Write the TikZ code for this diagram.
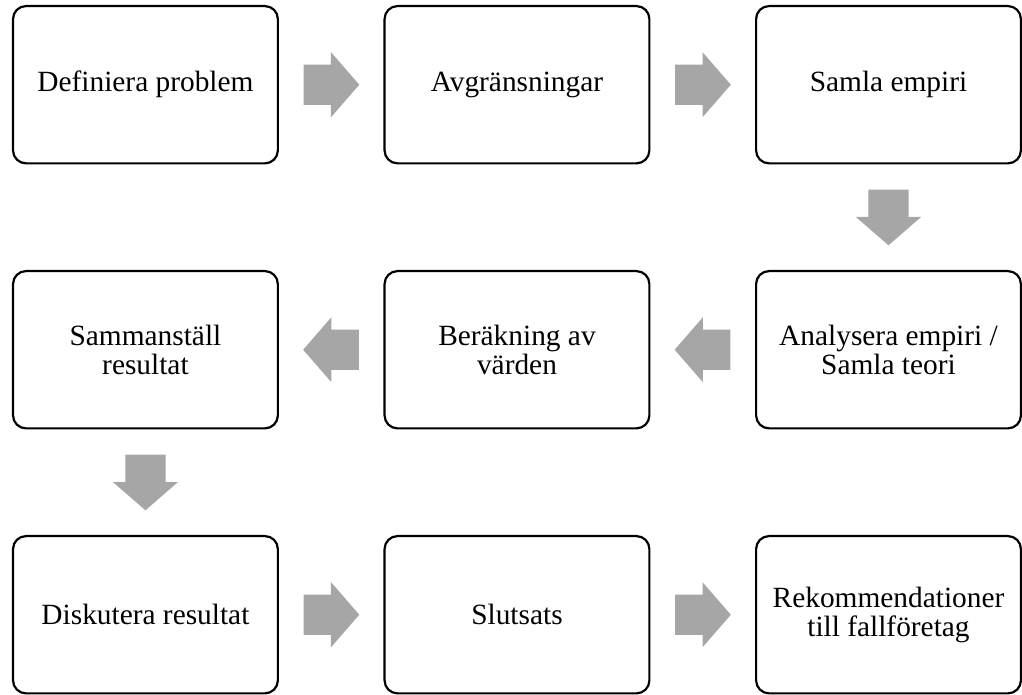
\documentclass[tikz,border=0pt]{standalone}
\usepackage{fontspec}
\setmainfont{Liberation Serif}
\usetikzlibrary{positioning,calc,shapes.arrows}

\definecolor{pilgra}{RGB}{166,166,166}

\begin{document}
\begin{tikzpicture}[node distance=106pt and 105pt,
  steg/.style={draw, line width=2.2pt, rounded corners=13pt, minimum width=266pt, minimum height=158pt,
    align=center, font=\fontsize{29.5}{29}\selectfont, inner sep=4pt},
  pil/.style={single arrow, fill=pilgra, draw=none, minimum height=56pt, minimum width=65pt, anchor=tail,
    inner xsep=0pt, inner ysep=20pt, single arrow head extend=12.5pt, single arrow tip angle=98}]
% rad 1
\node[steg] (def) {Definiera problem};
\node[steg, right=of def] (avg) {Avgränsningar};
\node[steg, right=of avg] (emp) {Samla empiri};
% rad 2
\node[steg, below=of emp] (ana) {Analysera empiri /\\Samla teori};
\node[steg, left=of ana] (ber) {Beräkning av\\värden};
\node[steg, left=of ber] (sam) {Sammanställ\\resultat};
% rad 3
\node[steg, below=of sam] (dis) {Diskutera resultat};
\node[steg, right=of dis] (slu) {Slutsats};
\node[steg, right=of slu] (rek) {Rekommendationer\\till fallföretag};
% pilar
\node[pil] (p1) at ($(def.east)+(24.5pt,0)$) {};
\node[pil] (p2) at ($(avg.east)+(24.5pt,0)$) {};
\node[pil, rotate=270] (p3) at ($(emp.south)+(0,-25pt)$) {};
\node[pil, rotate=180] (p4) at ($(ana.west)+(-24.5pt,0)$) {};
\node[pil, rotate=180] (p5) at ($(ber.west)+(-24.5pt,0)$) {};
\node[pil, rotate=270] (p6) at ($(sam.south)+(0,-25pt)$) {};
\node[pil] (p7) at ($(dis.east)+(24.5pt,0)$) {};
\node[pil] (p8) at ($(slu.east)+(24.5pt,0)$) {};
\useasboundingbox ($(def.north west)+(-12pt,5pt)$) rectangle +(1022pt,-694pt);
\end{tikzpicture}
\end{document}
